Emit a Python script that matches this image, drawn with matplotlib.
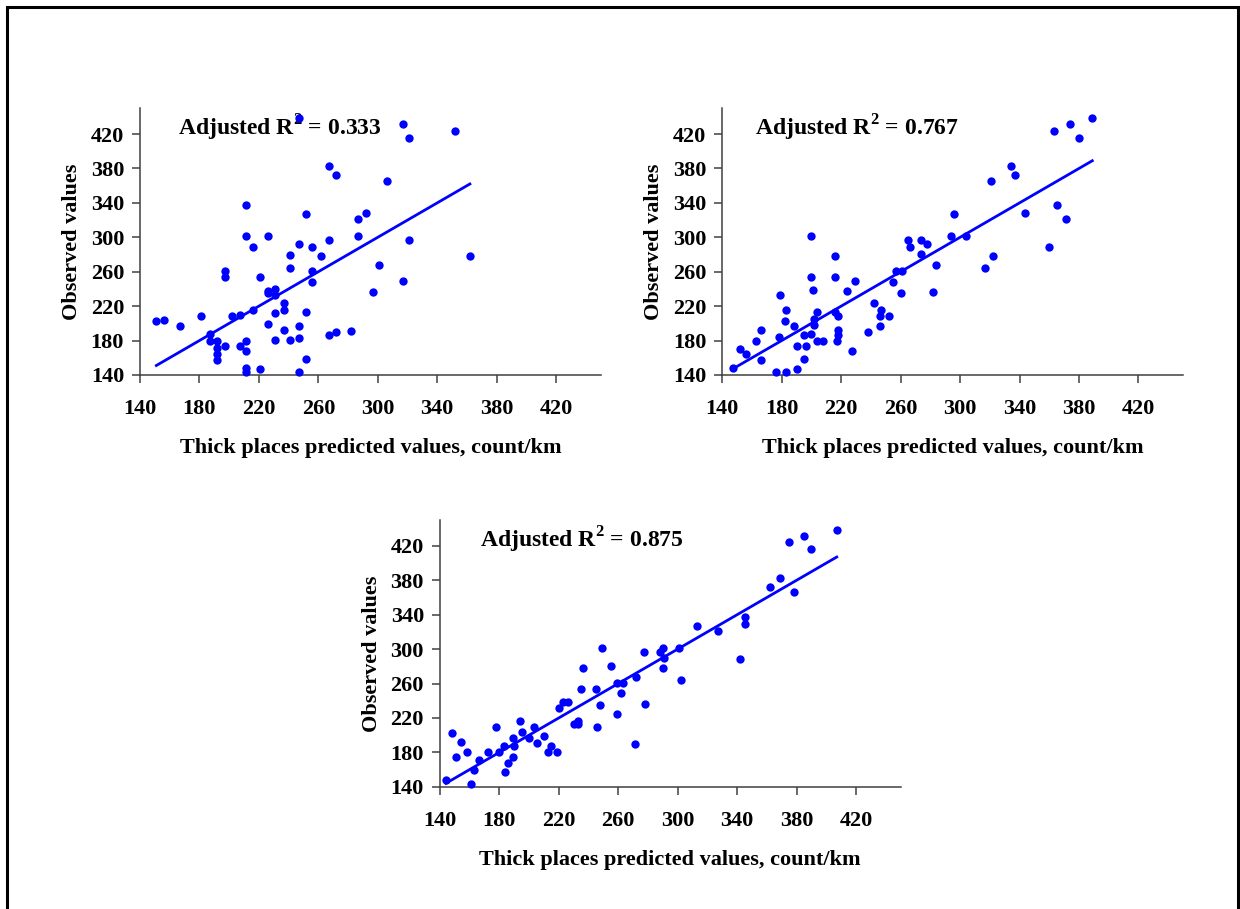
import matplotlib
matplotlib.use("Agg")
import matplotlib.pyplot as plt
from matplotlib.patches import Rectangle
import numpy as np

# Modelo 1: valores predichos y observados (R2 ajustado = 0.333)
pred_1 = [151, 156, 167, 181, 187, 187, 192, 192, 192, 192, 197, 197, 197, 202,
          207, 207, 211, 211, 211, 211, 211, 211, 216, 216, 221, 221, 226, 226,
          226, 226, 231, 231, 231, 231, 237, 237, 237, 241, 241, 241, 247, 247,
          247, 247, 247, 252, 252, 252, 256, 256, 256, 262, 267, 267, 267, 272,
          272, 282, 287, 287, 292, 297, 317, 321, 352, 306, 321, 301, 317, 362]
obs_1 = [203, 204, 197, 208, 188, 180, 180, 171, 164, 157, 261, 254, 174, 208,
         210, 174, 337, 301, 179, 168, 148, 143, 289, 216, 254, 147, 301, 238,
         235, 199, 240, 233, 212, 181, 224, 216, 192, 280, 264, 181, 439, 292,
         197, 183, 143, 327, 213, 159, 289, 261, 248, 278, 383, 297, 187, 372,
         190, 191, 321, 301, 328, 236, 432, 415, 423, 365, 297, 268, 249, 278]

# Modelo 2 (R2 ajustado = 0.767)
pred_2 = [147, 152, 156, 163, 166, 166, 176, 178, 179, 182, 183, 183, 188, 190,
          190, 195, 195, 196, 200, 200, 200, 201, 202, 202, 204, 204, 208, 216,
          216, 216, 218, 218, 218, 217, 224, 227, 229, 238, 242, 246, 246, 247,
          252, 255, 257, 260, 261, 265, 266, 274, 274, 278, 282, 284, 294, 296,
          304, 317, 322, 321, 334, 337, 344, 360, 363, 365, 371, 374, 380, 389]
obs_2 = [148, 170, 164, 180, 192, 157, 143, 184, 233, 203, 143, 216, 197, 174,
         147, 187, 159, 174, 301, 188, 254, 239, 205, 198, 213, 180, 180, 278,
         254, 213, 209, 192, 187, 180, 238, 168, 249, 190, 224, 197, 209, 216,
         208, 248, 261, 235, 261, 297, 289, 297, 281, 292, 236, 268, 301, 327,
         301, 264, 278, 365, 383, 372, 328, 289, 423, 337, 321, 432, 415, 439]

# Modelo 3 (R2 ajustado = 0.875)
pred_3 = [144, 148, 151, 154, 158, 161, 163, 166, 172, 178, 180, 183, 184, 186,
          189, 189, 190, 194, 195, 200, 203, 205, 210, 213, 215, 219, 220, 223,
          226, 230, 233, 233, 235, 236, 245, 246, 248, 249, 255, 259, 259, 262,
          263, 271, 272, 277, 278, 288, 290, 290, 291, 301, 302, 313, 327, 342,
          345, 345, 362, 369, 375, 378, 385, 390, 407]
obs_3 = [148, 203, 174, 192, 180, 143, 160, 171, 180, 209, 180, 187, 157, 168,
         174, 197, 187, 216, 204, 197, 209, 191, 199, 180, 187, 180, 232, 238,
         239, 213, 213, 216, 254, 278, 254, 209, 235, 301, 280, 224, 261, 249,
         261, 190, 268, 297, 236, 297, 301, 278, 290, 301, 264, 327, 321, 289,
         337, 329, 372, 383, 424, 366, 432, 416, 439]

r2_labels = ["0.333", "0.767", "0.875"]
ticks = [140, 180, 220, 260, 300, 340, 380, 420]

plt.rcParams["font.family"] = ["Liberation Serif", "DejaVu Serif"]
plt.rcParams["font.weight"] = "bold"
plt.rcParams["mathtext.fontset"] = "custom"
plt.rcParams["mathtext.rm"] = "Liberation Serif:bold"
plt.rcParams["mathtext.bf"] = "Liberation Serif:bold"

fig = plt.figure(figsize=(12.4, 9.09), dpi=100)

# posiciones de los tres paneles (izq, abajo, ancho, alto)
posiciones = [(0.1129, 0.5875, 0.3715, 0.2934),
              (0.5825, 0.5875, 0.3715, 0.2934),
              (0.3548, 0.1345, 0.3715, 0.2934)]
texto_x = [0.082, 0.072, 0.087]

datos = [(pred_1, obs_1), (pred_2, obs_2), (pred_3, obs_3)]

for i, (pred, obs) in enumerate(datos):
    ax = fig.add_axes(posiciones[i])
    ax.scatter(pred, obs, s=36, color="#0000FF", zorder=3, clip_on=False,
               linewidths=0)
    # recta de ajuste observado = predicho
    xs = np.array([min(pred), max(pred)])
    ax.plot(xs, xs, color="#0000FF", lw=2.0, zorder=2)

    ax.set_xlim(140, 450)
    ax.set_ylim(140, 450)
    ax.set_xticks(ticks)
    ax.set_yticks(ticks)
    for lado in ["top", "right"]:
        ax.spines[lado].set_visible(False)
    for lado in ["left", "bottom"]:
        ax.spines[lado].set_color("#404040")
        ax.spines[lado].set_linewidth(1.1)
    ax.tick_params(axis="both", direction="out", length=5.5, width=1.1,
                   color="#404040", labelsize=16)
    ax.tick_params(axis="x", pad=12)
    ax.tick_params(axis="y", pad=6)
    for lab in ax.get_xticklabels() + ax.get_yticklabels():
        lab.set_fontweight("bold")

    ax.set_xlabel("Thick places predicted values, count/km", fontsize=16,
                  fontweight="bold")
    ax.set_ylabel("Observed values", fontsize=16, fontweight="bold")
    ax.xaxis.set_label_coords(0.5, -0.238)
    ax.yaxis.set_label_coords(-0.126, 0.5)

    ax.text(texto_x[i], 0.896, "Adjusted R$^{2}$ = " + r2_labels[i],
            transform=ax.transAxes, fontsize=17, fontweight="bold",
            ha="left", va="baseline", zorder=1)

# marco negro alrededor de la figura
marco = Rectangle((0.006, -0.02), 0.9925, 1.0125, transform=fig.transFigure,
                  fill=False, edgecolor="black", lw=2.2, clip_on=False)
fig.patches.append(marco)

plt.savefig("out.png", dpi=100)
plt.close()
